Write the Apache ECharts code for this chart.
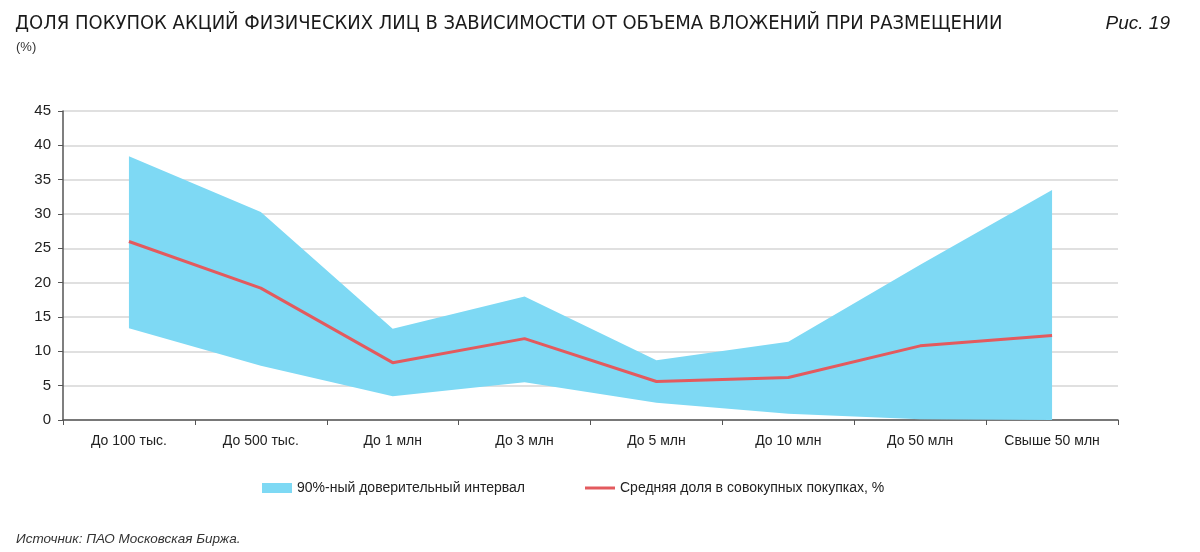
<!DOCTYPE html>
<html><head><meta charset="utf-8">
<script src="https://cdn.jsdelivr.net/npm/echarts@6/dist/echarts.min.js"></script>
<style>html,body{margin:0;padding:0;background:#fff}#c{width:1200px;height:552px}</style>
</head><body><div id="c"></div>
<script>
const categories = ['До 100 тыс.', 'До 500 тыс.', 'До 1 млн', 'До 3 млн', 'До 5 млн', 'До 10 млн', 'До 50 млн', 'Свыше 50 млн'];
const meanShare = [26.0, 19.2, 8.35, 11.85, 5.6, 6.2, 10.8, 12.3];
const lowerBound = [13.35, 7.9, 3.45, 5.5, 2.5, 0.9, 0.1, 0];
const upperBound = [38.4, 30.3, 13.3, 18.0, 8.7, 11.4, 22.6, 33.5];
const bandName = '90%-ный доверительный интервал';
const lineName = 'Средняя доля в совокупных покупках, %';

const bandWidth = upperBound.map((u, i) => +(u - lowerBound[i]).toFixed(3));
const txtFont = '"Liberation Sans", sans-serif';
const chart = echarts.init(document.getElementById('c'));
chart.setOption({
  animation: false,
  title: [
    { text: 'ДОЛЯ ПОКУПОК АКЦИЙ ФИЗИЧЕСКИХ ЛИЦ В ЗАВИСИМОСТИ ОТ ОБЪЕМА ВЛОЖЕНИЙ ПРИ РАЗМЕЩЕНИИ', left: 10, top: 9,
      textStyle: { fontFamily: '"DejaVu Sans Condensed", sans-serif', fontSize: 20, fontWeight: 'normal', color: '#1a1a1a' } },
    { text: '(%)', left: 11, top: 36, textStyle: { fontFamily: txtFont, fontSize: 13, fontWeight: 'normal', color: '#333' } },
    { text: 'Рис. 19', right: 25, top: 9, textStyle: { fontFamily: txtFont, fontStyle: 'italic', fontSize: 19, fontWeight: 'normal', color: '#1a1a1a' } },
    { text: 'Источник: ПАО Московская Биржа.', left: 11, top: 527, textStyle: { fontFamily: txtFont, fontStyle: 'italic', fontSize: 13.5, fontWeight: 'normal', color: '#333' } }
  ],
  legend: [
    { top: 476, left: 257, itemWidth: 30, itemHeight: 10, itemGap: 8,
      textStyle: { fontFamily: txtFont, fontSize: 14, color: '#222' },
      data: [ { name: bandName, icon: 'rect' } ] },
    { top: 476, left: 580, itemWidth: 30, itemHeight: 3, itemGap: 8,
      textStyle: { fontFamily: txtFont, fontSize: 14, color: '#222' },
      data: [ { name: lineName, icon: 'rect' } ] }
  ],
  grid: { left: 63, right: 82, top: 111, bottom: 132 },
  xAxis: {
    type: 'category', data: categories, boundaryGap: true,
    axisLine: { lineStyle: { color: '#555', width: 1.5 } },
    axisTick: { show: true, length: 5, lineStyle: { color: '#555' } },
    axisLabel: { margin: 14, fontFamily: txtFont, fontSize: 14, color: '#222' }
  },
  yAxis: {
    type: 'value', min: 0, max: 45, interval: 5,
    axisLine: { show: true, lineStyle: { color: '#555', width: 1.5 } },
    axisTick: { show: true, length: 5, lineStyle: { color: '#555' } },
    axisLabel: { margin: 12, fontFamily: txtFont, fontSize: 15, color: '#222' },
    splitLine: { lineStyle: { color: '#d6d6d6', width: 1.5 } }
  },
  series: [
    { name: 'lower', type: 'line', stack: 'band', data: lowerBound, symbol: 'none',
      lineStyle: { opacity: 0 }, areaStyle: { opacity: 0 }, silent: true },
    { name: bandName, type: 'line', stack: 'band', data: bandWidth, symbol: 'none',
      itemStyle: { color: '#7ED9F4' }, lineStyle: { width: 0, opacity: 0 },
      areaStyle: { color: '#7ED9F4', opacity: 1 } },
    { name: lineName, type: 'line', data: meanShare, symbol: 'none',
      itemStyle: { color: '#E35A5E' }, lineStyle: { color: '#E35A5E', width: 3 } }
  ]
});
</script></body></html>
